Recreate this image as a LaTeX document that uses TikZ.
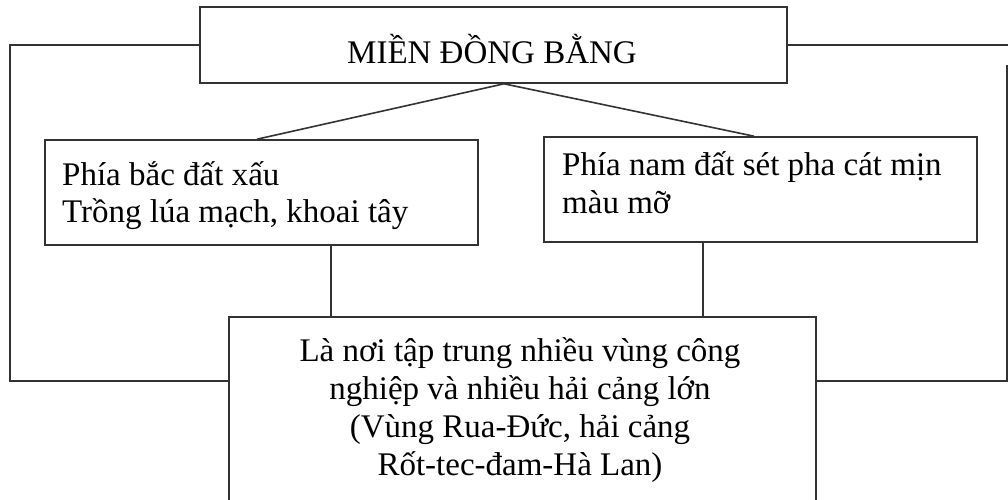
\documentclass[tikz,border=0pt]{standalone}
\usepackage{fontspec}
\setmainfont{Liberation Serif}
\usetikzlibrary{positioning}
\tikzset{
    Box/.style = {rectangle, draw=black!80, line width=1.6pt, inner sep=0pt}
}
\tikzset{
    Edge/.style = {draw=black!80, line width=1.6pt}
}

\begin{document}
\begin{tikzpicture}[
    x=1pt, y=-1pt,
    font=\fontsize{33}{38}\selectfont
]
\tikzset{
    Txt/.style = {inner sep=0pt, align=left, anchor=base west},
}
\useasboundingbox (0,0) rectangle (1008,499);

\node[Box, minimum width=587, minimum height=76] at (493.5,45) (top) {};
\node[Box, minimum width=433, minimum height=105] at (261.5,192.5) (north) {};
\node[Box, minimum width=433, minimum height=105] at (760.5,189.5) (south) {};
\node[Box, minimum width=587, minimum height=186] at (522.5,410) (ruhr) {};

% base anchor of a multi-line node sits on its last line
\node[Txt, anchor=base] at (492,63) (topText) {MIỀN ĐỒNG BẰNG};
\node[Txt, font=\fontsize{33}{37}\selectfont] at (62,222) (northText)
    {Phía bắc đất xấu\\Trồng lúa mạch, khoai tây};
\node[Txt] at (562,213) (southText) {Phía nam đất sét pha cát mịn\\màu mỡ};
\node[Txt, align=center, anchor=base] at (520,475) (ruhrText)
    {Là nơi tập trung nhiều vùng công\\nghiệp và nhiều hải cảng lớn\\(Vùng Rua-Đức, hải cảng\\Rốt-tec-đam-Hà Lan)};

\coordinate (apex) at ([xshift=10.5pt]top.south);
\coordinate (ldrop) at (331,245);
\coordinate (rdrop) at (703,242);
\coordinate (lcorner) at (10,381);
\coordinate (rtop) at (1007,65);
\coordinate (rcorner) at (1007,381);
\coordinate (redge) at (1012,45);

\path (apex) edge [Edge] ([xshift=-4.5pt]north.north);
\path (apex) edge [Edge] ([xshift=-6.5pt]south.north);
\path (ldrop) edge [Edge] (ldrop |- ruhr.north);
\path (rdrop) edge [Edge] (rdrop |- ruhr.north);
\draw[Edge] (top.west) -| (lcorner) -- (lcorner -| ruhr.west);
\path (top.east) edge [Edge] (redge);
\draw[Edge] (rtop) -- (rcorner) -- (rcorner -| ruhr.east);
\end{tikzpicture}
\end{document}
